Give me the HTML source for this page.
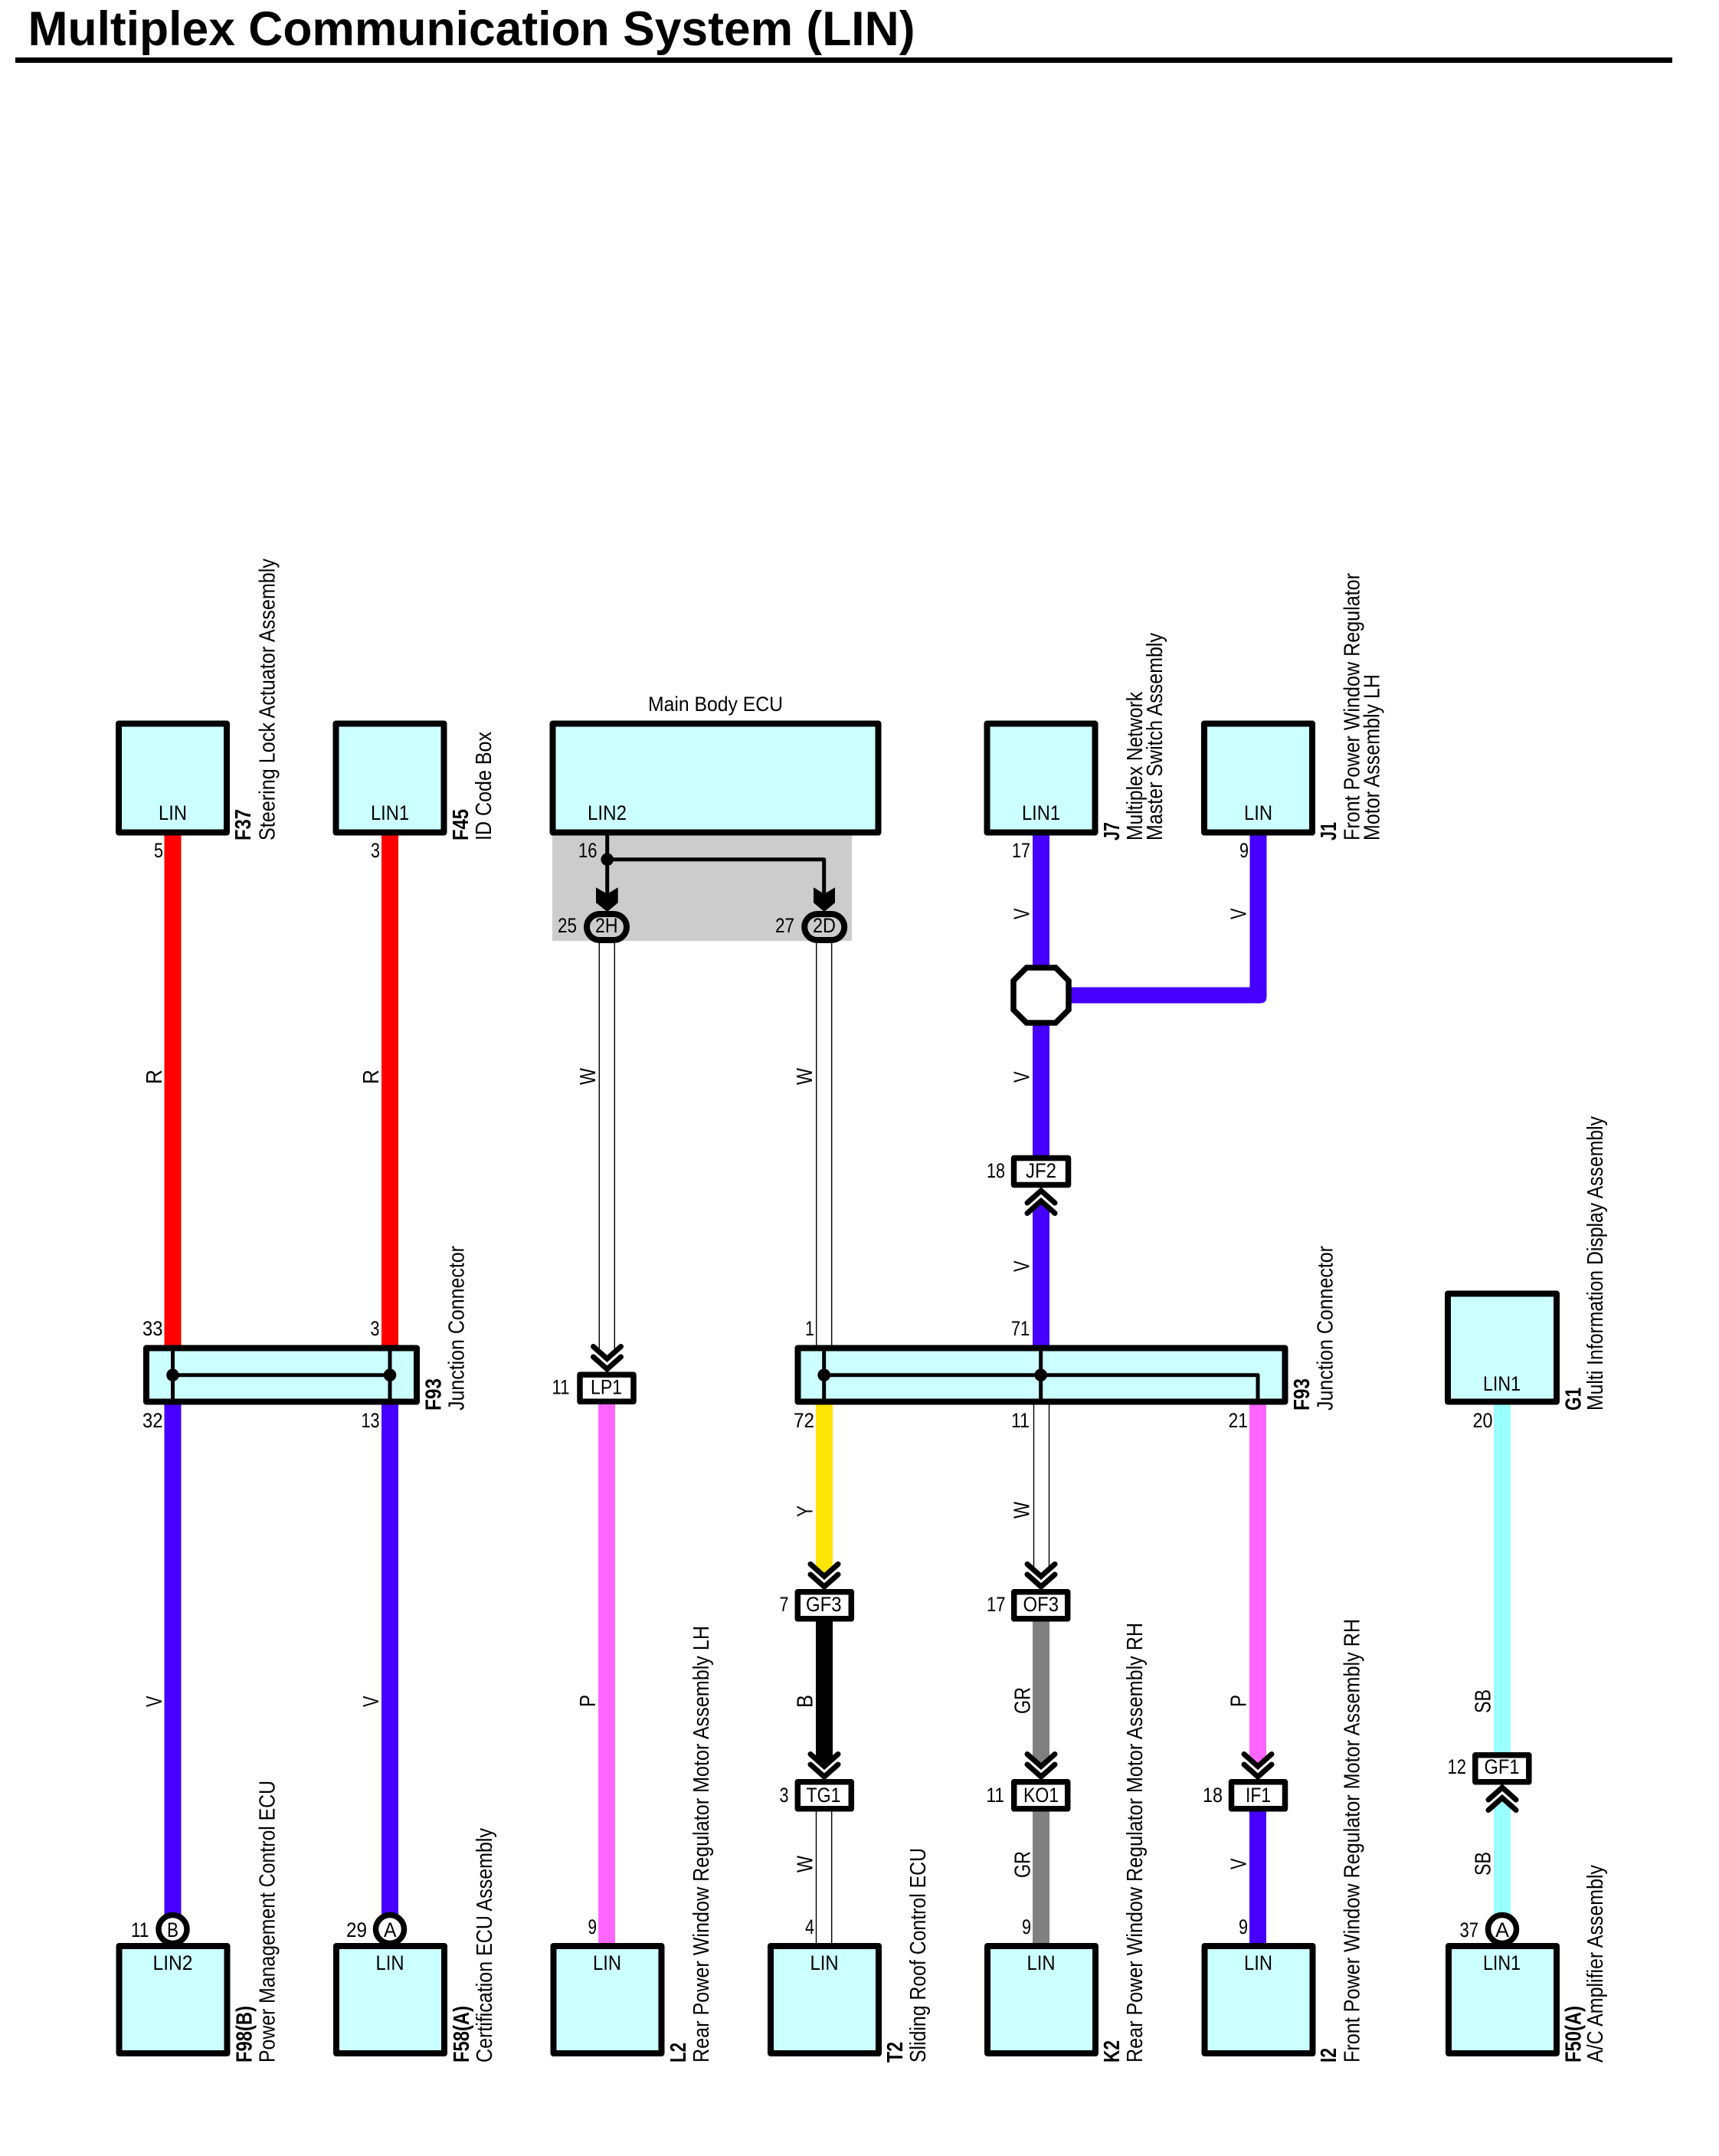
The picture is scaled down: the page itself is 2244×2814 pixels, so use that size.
<!DOCTYPE html>
<html><head><meta charset="utf-8"><title>Multiplex Communication System (LIN)</title>
<style>
html,body{margin:0;padding:0;background:#fff}
svg{display:block}
text{font-family:"Liberation Sans",Arial,sans-serif;font-size:26.5px;fill:#000}
.b{font-weight:bold;font-size:29px}
.r{font-size:29px}
.w{font-size:29px}
.box{fill:#ccffff;stroke:#000;stroke-width:8;stroke-linejoin:round}
.con{fill:#fff;stroke:#000;stroke-width:7.5;stroke-linejoin:round}
.ov{fill:#cccccc;stroke:#000;stroke-width:8}
.th{stroke:#000;stroke-width:1.4;fill:none}
.ln{stroke:#000;stroke-width:5;fill:none;stroke-linejoin:round}
.ch{stroke:#000;stroke-width:7;fill:none;stroke-linecap:round;stroke-linejoin:miter}
</style></head><body>
<svg xmlns="http://www.w3.org/2000/svg" width="2244" height="2814" viewBox="0 0 2244 2814">
<defs>
<g id="chev"><polyline class="ch" points="-18,3.5 0,19.5 18,3.5"/><polyline class="ch" points="-18,17 0,33 18,17"/></g>
</defs>
<rect width="2244" height="2814" fill="#fff"/>

<!-- title -->
<text class="b" style="font-size:63px" x="36.500" y="59" textLength="1158" lengthAdjust="spacingAndGlyphs">Multiplex Communication System (LIN)</text>
<rect x="20" y="75" width="2163" height="7" fill="#000"/>

<!-- grey area -->
<rect x="721" y="1090" width="391" height="138" fill="#cccccc"/>

<!-- wires -->
<g>
<rect x="214.5" y="1088" width="22" height="670" fill="#ff0000"/>
<rect x="498" y="1088" width="22" height="670" fill="#ff0000"/>
<rect x="214.5" y="1832" width="22" height="670" fill="#4700ff"/>
<rect x="498" y="1832" width="22" height="670" fill="#4700ff"/>
<rect x="781" y="1832" width="22" height="706" fill="#ff66ff"/>
<rect x="1348" y="1088" width="22" height="172" fill="#4700ff"/>
<path d="M1631.500 1090H1653.500V1301Q1653.500 1309.500 1645 1309.500H1390V1288.500H1631.500Z" fill="#4700ff"/>
<rect x="1348" y="1336" width="22" height="174" fill="#4700ff"/>
<polygon points="1348,1758 1370,1758 1370,1575 1359,1566 1348,1575" fill="#4700ff"/>
<polygon points="1065,1832 1087,1832 1087,2047 1076,2056 1065,2047" fill="#ffe600"/>
<polygon points="1065,2116 1087,2116 1087,2295 1076,2305 1065,2295" fill="#000"/>
<polygon points="1348,2116 1370,2116 1370,2295 1359,2305 1348,2295" fill="#808080"/>
<rect x="1348" y="2364" width="22" height="174" fill="#808080"/>
<polygon points="1631,1832 1653,1832 1653,2295 1642,2305 1631,2295" fill="#ff66ff"/>
<rect x="1631" y="2364" width="22" height="174" fill="#4700ff"/>
<rect x="1950" y="1832" width="22" height="457" fill="#99ffff"/>
<polygon points="1950,2500 1972,2500 1972,2357 1961,2347 1950,2357" fill="#99ffff"/>
<!-- white wires -->
<path class="th" d="M782.300 1230V1765M802.300 1230V1765"/>
<path class="th" d="M1065.700 1230V1757M1085.700 1230V1757"/>
<path class="th" d="M1349.500 1832V2048M1369.500 1832V2048"/>
<path class="th" d="M1065.500 2364V2537M1085.700 2364V2537"/>
</g>

<!-- top boxes -->
<rect class="box" x="155" y="944.500" width="141" height="142"/>
<rect class="box" x="438.500" y="944.500" width="141" height="142"/>
<rect class="box" x="721.500" y="944.500" width="425" height="142"/>
<rect class="box" x="1288.500" y="944.500" width="141" height="142"/>
<rect class="box" x="1572" y="944.500" width="141" height="142"/>
<rect class="box" x="1890" y="1688.500" width="142" height="141"/>

<!-- main body branch -->
<path class="ln" d="M792.700 1090V1170M792.700 1121.700H1075.700V1170"/>
<circle cx="792.700" cy="1121.700" r="8.300" fill="#000"/>
<polygon points="778,1158.300 792.700,1166.700 806.700,1158.300 806.700,1178.300 792.700,1190 778,1178.300" fill="#000"/>
<polygon points="1062,1158.300 1076,1166.700 1090,1158.300 1090,1178.300 1076,1190 1062,1178.300" fill="#000"/>
<rect class="ov" x="766" y="1193" width="52" height="34" rx="17"/>
<rect class="ov" x="1050.200" y="1193" width="52" height="34" rx="17"/>

<!-- splice -->
<polygon points="1340,1263 1378,1263 1395,1280 1395,1318 1378,1335 1340,1335 1323,1318 1323,1280" fill="#fff" stroke="#000" stroke-width="7.5"/>

<!-- junction boxes -->
<rect class="box" x="191" y="1759.500" width="353" height="70"/>
<path class="ln" d="M225.500 1757V1832M509 1757V1832M225.500 1794.700H509"/>
<circle cx="225.500" cy="1794.700" r="8.300" fill="#000"/>
<circle cx="509" cy="1794.700" r="8.300" fill="#000"/>
<rect class="box" x="1041.500" y="1759.500" width="636" height="70"/>
<path class="ln" d="M1075.700 1757V1832M1358.700 1757V1832M1075.700 1794.700H1642V1832"/>
<circle cx="1075.700" cy="1794.700" r="8.300" fill="#000"/>
<circle cx="1358.700" cy="1794.700" r="8.300" fill="#000"/>

<!-- chevrons -->
<use href="#chev" transform="translate(792.500,1754)"/>
<use href="#chev" transform="translate(1076,2038)"/>
<use href="#chev" transform="translate(1359,2038)"/>
<use href="#chev" transform="translate(1076,2286)"/>
<use href="#chev" transform="translate(1359,2286)"/>
<use href="#chev" transform="translate(1642,2286)"/>
<use href="#chev" transform="translate(1359,1587) scale(1,-1)"/>
<use href="#chev" transform="translate(1961,2366) scale(1,-1)"/>

<!-- inline connectors -->
<rect class="con" x="1323.500" y="1511.500" width="71" height="35"/>
<rect class="con" x="757" y="1794.300" width="70" height="35"/>
<rect class="con" x="1041.300" y="2077.800" width="70" height="35"/>
<rect class="con" x="1323.700" y="2077.800" width="70" height="35"/>
<rect class="con" x="1041.300" y="2325.800" width="70" height="35"/>
<rect class="con" x="1323.700" y="2325.800" width="70" height="35"/>
<rect class="con" x="1607.500" y="2325.800" width="70" height="35"/>
<rect class="con" x="1925.800" y="2290.800" width="70" height="35"/>

<!-- bottom boxes -->
<rect class="box" x="155.500" y="2540" width="141" height="140"/>
<rect class="box" x="439" y="2540" width="141" height="140"/>
<rect class="box" x="722.500" y="2540" width="141" height="140"/>
<rect class="box" x="1006" y="2540" width="141" height="140"/>
<rect class="box" x="1289" y="2540" width="141" height="140"/>
<rect class="box" x="1572.500" y="2540" width="141" height="140"/>
<rect class="box" x="1891" y="2540" width="141" height="140"/>
<circle class="con" cx="225.500" cy="2518" r="18.500"/>
<circle class="con" cx="509" cy="2518" r="18.500"/>
<circle class="con" cx="1961" cy="2518" r="18.500"/>

<!-- LIN labels top -->
<text x="207" y="1070" textLength="37" lengthAdjust="spacingAndGlyphs">LIN</text>
<text x="484" y="1070" textLength="50" lengthAdjust="spacingAndGlyphs">LIN1</text>
<text x="767" y="1070" textLength="51" lengthAdjust="spacingAndGlyphs">LIN2</text>
<text x="1334" y="1070" textLength="50" lengthAdjust="spacingAndGlyphs">LIN1</text>
<text x="1624" y="1070" textLength="37" lengthAdjust="spacingAndGlyphs">LIN</text>
<text x="1936" y="1815" textLength="49" lengthAdjust="spacingAndGlyphs">LIN1</text>
<text x="846" y="928" textLength="176" lengthAdjust="spacingAndGlyphs" style="font-size:27px">Main Body ECU</text>

<!-- LIN labels bottom -->
<text x="199.500" y="2571" textLength="52" lengthAdjust="spacingAndGlyphs">LIN2</text>
<text x="490.500" y="2571" textLength="37" lengthAdjust="spacingAndGlyphs">LIN</text>
<text x="774" y="2571" textLength="37" lengthAdjust="spacingAndGlyphs">LIN</text>
<text x="1057.500" y="2571" textLength="37" lengthAdjust="spacingAndGlyphs">LIN</text>
<text x="1340.500" y="2571" textLength="37" lengthAdjust="spacingAndGlyphs">LIN</text>
<text x="1624" y="2571" textLength="37" lengthAdjust="spacingAndGlyphs">LIN</text>
<text x="1936" y="2571" textLength="49" lengthAdjust="spacingAndGlyphs">LIN1</text>

<!-- pin numbers -->
<text x="201" y="1119" textLength="12" lengthAdjust="spacingAndGlyphs">5</text>
<text x="484" y="1119" textLength="12" lengthAdjust="spacingAndGlyphs">3</text>
<text x="755" y="1119" textLength="24.500" lengthAdjust="spacingAndGlyphs">16</text>
<text x="1321" y="1119" textLength="24" lengthAdjust="spacingAndGlyphs">17</text>
<text x="1618" y="1119" textLength="12" lengthAdjust="spacingAndGlyphs">9</text>
<text x="728" y="1217" textLength="25" lengthAdjust="spacingAndGlyphs">25</text>
<text x="1012" y="1217" textLength="25" lengthAdjust="spacingAndGlyphs">27</text>
<text x="1288" y="1537" textLength="24" lengthAdjust="spacingAndGlyphs">18</text>
<text x="186" y="1743" textLength="26.500" lengthAdjust="spacingAndGlyphs">33</text>
<text x="483.500" y="1743" textLength="12" lengthAdjust="spacingAndGlyphs">3</text>
<text x="1051" y="1743" textLength="12" lengthAdjust="spacingAndGlyphs">1</text>
<text x="1320" y="1743" textLength="24" lengthAdjust="spacingAndGlyphs">71</text>
<text x="186" y="1863" textLength="26.500" lengthAdjust="spacingAndGlyphs">32</text>
<text x="471.500" y="1863" textLength="24" lengthAdjust="spacingAndGlyphs">13</text>
<text x="1036" y="1863" textLength="27" lengthAdjust="spacingAndGlyphs">72</text>
<text x="1320" y="1863" textLength="24" lengthAdjust="spacingAndGlyphs">11</text>
<text x="1603.500" y="1863" textLength="25.500" lengthAdjust="spacingAndGlyphs">21</text>
<text x="1922.500" y="1863" textLength="26" lengthAdjust="spacingAndGlyphs">20</text>
<text x="720.500" y="1819.500" textLength="23" lengthAdjust="spacingAndGlyphs">11</text>
<text x="1017.500" y="2103" textLength="12" lengthAdjust="spacingAndGlyphs">7</text>
<text x="1288" y="2103" textLength="24.500" lengthAdjust="spacingAndGlyphs">17</text>
<text x="1017.500" y="2352" textLength="12" lengthAdjust="spacingAndGlyphs">3</text>
<text x="1287.500" y="2352" textLength="23.500" lengthAdjust="spacingAndGlyphs">11</text>
<text x="1570" y="2352" textLength="26" lengthAdjust="spacingAndGlyphs">18</text>
<text x="1889.500" y="2315" textLength="24.500" lengthAdjust="spacingAndGlyphs">12</text>
<text x="171" y="2528" textLength="23.500" lengthAdjust="spacingAndGlyphs">11</text>
<text x="452" y="2528" textLength="27" lengthAdjust="spacingAndGlyphs">29</text>
<text x="1905.500" y="2528" textLength="24.500" lengthAdjust="spacingAndGlyphs">37</text>
<text x="767.500" y="2524" textLength="11.500" lengthAdjust="spacingAndGlyphs">9</text>
<text x="1051" y="2524" textLength="12" lengthAdjust="spacingAndGlyphs">4</text>
<text x="1334" y="2524" textLength="12" lengthAdjust="spacingAndGlyphs">9</text>
<text x="1617" y="2524" textLength="12" lengthAdjust="spacingAndGlyphs">9</text>

<!-- connector labels -->
<text x="777" y="1217" textLength="29.500" lengthAdjust="spacingAndGlyphs">2H</text>
<text x="1061" y="1217" textLength="30" lengthAdjust="spacingAndGlyphs">2D</text>
<text x="1339" y="1537" textLength="40" lengthAdjust="spacingAndGlyphs">JF2</text>
<text x="771" y="1819.500" textLength="41" lengthAdjust="spacingAndGlyphs">LP1</text>
<text x="1052" y="2103" textLength="46.500" lengthAdjust="spacingAndGlyphs">GF3</text>
<text x="1335.500" y="2103" textLength="46.500" lengthAdjust="spacingAndGlyphs">OF3</text>
<text x="1052.500" y="2352" textLength="45" lengthAdjust="spacingAndGlyphs">TG1</text>
<text x="1336" y="2352" textLength="46" lengthAdjust="spacingAndGlyphs">KO1</text>
<text x="1626" y="2352" textLength="33" lengthAdjust="spacingAndGlyphs">IF1</text>
<text x="1937.500" y="2315" textLength="46" lengthAdjust="spacingAndGlyphs">GF1</text>
<text x="218" y="2528" textLength="15" lengthAdjust="spacingAndGlyphs">B</text>
<text x="501" y="2528" textLength="16.500" lengthAdjust="spacingAndGlyphs">A</text>
<text x="1952" y="2528" textLength="18" lengthAdjust="spacingAndGlyphs">A</text>

<!-- wire colour letters -->
<g>
<text class="w" transform="translate(211,1415) rotate(-90)" textLength="19" lengthAdjust="spacingAndGlyphs">R</text>
<text class="w" transform="translate(494,1415) rotate(-90)" textLength="19" lengthAdjust="spacingAndGlyphs">R</text>
<text class="w" transform="translate(777,1416) rotate(-90)" textLength="22" lengthAdjust="spacingAndGlyphs">W</text>
<text class="w" transform="translate(1060,1416) rotate(-90)" textLength="22" lengthAdjust="spacingAndGlyphs">W</text>
<text class="w" transform="translate(1343.500,1200) rotate(-90)" textLength="14.500" lengthAdjust="spacingAndGlyphs">V</text>
<text class="w" transform="translate(1626.500,1200) rotate(-90)" textLength="14.500" lengthAdjust="spacingAndGlyphs">V</text>
<text class="w" transform="translate(1343.500,1413) rotate(-90)" textLength="14.500" lengthAdjust="spacingAndGlyphs">V</text>
<text class="w" transform="translate(1343.500,1660) rotate(-90)" textLength="14.500" lengthAdjust="spacingAndGlyphs">V</text>
<text class="w" transform="translate(211,2228) rotate(-90)" textLength="14.500" lengthAdjust="spacingAndGlyphs">V</text>
<text class="w" transform="translate(494,2228) rotate(-90)" textLength="14.500" lengthAdjust="spacingAndGlyphs">V</text>
<text class="w" transform="translate(777,2228) rotate(-90)" textLength="16" lengthAdjust="spacingAndGlyphs">P</text>
<text class="w" transform="translate(1060.500,1980) rotate(-90)" textLength="15" lengthAdjust="spacingAndGlyphs">Y</text>
<text class="w" transform="translate(1343.500,1982) rotate(-90)" textLength="22" lengthAdjust="spacingAndGlyphs">W</text>
<text class="w" transform="translate(1060.500,2229) rotate(-90)" textLength="17" lengthAdjust="spacingAndGlyphs">B</text>
<text class="w" transform="translate(1344.500,2237) rotate(-90)" textLength="35" lengthAdjust="spacingAndGlyphs">GR</text>
<text class="w" transform="translate(1626.500,2228) rotate(-90)" textLength="16" lengthAdjust="spacingAndGlyphs">P</text>
<text class="w" transform="translate(1945.500,2236) rotate(-90)" textLength="31" lengthAdjust="spacingAndGlyphs">SB</text>
<text class="w" transform="translate(1060.500,2444) rotate(-90)" textLength="22" lengthAdjust="spacingAndGlyphs">W</text>
<text class="w" transform="translate(1344.500,2451) rotate(-90)" textLength="35" lengthAdjust="spacingAndGlyphs">GR</text>
<text class="w" transform="translate(1626.500,2440) rotate(-90)" textLength="14.500" lengthAdjust="spacingAndGlyphs">V</text>
<text class="w" transform="translate(1945.500,2448) rotate(-90)" textLength="31" lengthAdjust="spacingAndGlyphs">SB</text>
</g>

<!-- rotated component names: top -->
<text class="b" transform="translate(327,1097) rotate(-90)" textLength="41" lengthAdjust="spacingAndGlyphs">F37</text>
<text class="r" transform="translate(358.500,1097) rotate(-90)" textLength="368" lengthAdjust="spacingAndGlyphs">Steering Lock Actuator Assembly</text>
<text class="b" transform="translate(611,1097) rotate(-90)" textLength="41" lengthAdjust="spacingAndGlyphs">F45</text>
<text class="r" transform="translate(641,1097) rotate(-90)" textLength="142" lengthAdjust="spacingAndGlyphs">ID Code Box</text>
<text class="b" transform="translate(1461,1097) rotate(-90)" textLength="24" lengthAdjust="spacingAndGlyphs">J7</text>
<text class="r" transform="translate(1491,1097) rotate(-90)" textLength="194" lengthAdjust="spacingAndGlyphs">Multiplex Network</text>
<text class="r" transform="translate(1517,1097) rotate(-90)" textLength="271" lengthAdjust="spacingAndGlyphs">Master Switch Assembly</text>
<text class="b" transform="translate(1744,1097) rotate(-90)" textLength="24" lengthAdjust="spacingAndGlyphs">J1</text>
<text class="r" transform="translate(1774.500,1097) rotate(-90)" textLength="349" lengthAdjust="spacingAndGlyphs">Front Power Window Regulator</text>
<text class="r" transform="translate(1800.500,1097) rotate(-90)" textLength="217" lengthAdjust="spacingAndGlyphs">Motor Assembly LH</text>

<!-- rotated: junctions and G1 -->
<text class="b" transform="translate(575.500,1841) rotate(-90)" textLength="42" lengthAdjust="spacingAndGlyphs">F93</text>
<text class="r" transform="translate(605.500,1841) rotate(-90)" textLength="215" lengthAdjust="spacingAndGlyphs">Junction Connector</text>
<text class="b" transform="translate(1709,1841) rotate(-90)" textLength="42" lengthAdjust="spacingAndGlyphs">F93</text>
<text class="r" transform="translate(1739.500,1841) rotate(-90)" textLength="215" lengthAdjust="spacingAndGlyphs">Junction Connector</text>
<text class="b" transform="translate(2063.500,1841) rotate(-90)" textLength="30" lengthAdjust="spacingAndGlyphs">G1</text>
<text class="r" transform="translate(2092,1841) rotate(-90)" textLength="384" lengthAdjust="spacingAndGlyphs">Multi Information Display Assembly</text>

<!-- rotated: bottom -->
<text class="b" transform="translate(328.500,2692) rotate(-90)" textLength="74" lengthAdjust="spacingAndGlyphs">F98(B)</text>
<text class="r" transform="translate(358.500,2692) rotate(-90)" textLength="368" lengthAdjust="spacingAndGlyphs">Power Management Control ECU</text>
<text class="b" transform="translate(612,2692) rotate(-90)" textLength="74" lengthAdjust="spacingAndGlyphs">F58(A)</text>
<text class="r" transform="translate(642,2692) rotate(-90)" textLength="306" lengthAdjust="spacingAndGlyphs">Certification ECU Assembly</text>
<text class="b" transform="translate(895,2692) rotate(-90)" textLength="26" lengthAdjust="spacingAndGlyphs">L2</text>
<text class="r" transform="translate(925,2692) rotate(-90)" textLength="570" lengthAdjust="spacingAndGlyphs">Rear Power Window Regulator Motor Assembly LH</text>
<text class="b" transform="translate(1178,2692) rotate(-90)" textLength="27" lengthAdjust="spacingAndGlyphs">T2</text>
<text class="r" transform="translate(1208,2692) rotate(-90)" textLength="280" lengthAdjust="spacingAndGlyphs">Sliding Roof Control ECU</text>
<text class="b" transform="translate(1461,2692) rotate(-90)" textLength="29" lengthAdjust="spacingAndGlyphs">K2</text>
<text class="r" transform="translate(1491,2692) rotate(-90)" textLength="574" lengthAdjust="spacingAndGlyphs">Rear Power Window Regulator Motor Assembly RH</text>
<text class="b" transform="translate(1744,2692) rotate(-90)" textLength="19" lengthAdjust="spacingAndGlyphs">I2</text>
<text class="r" transform="translate(1774.500,2692) rotate(-90)" textLength="579" lengthAdjust="spacingAndGlyphs">Front Power Window Regulator Motor Assembly RH</text>
<text class="b" transform="translate(2063.500,2692) rotate(-90)" textLength="74" lengthAdjust="spacingAndGlyphs">F50(A)</text>
<text class="r" transform="translate(2092,2692) rotate(-90)" textLength="258" lengthAdjust="spacingAndGlyphs">A/C Amplifier Assembly</text>
</svg>
</body></html>
